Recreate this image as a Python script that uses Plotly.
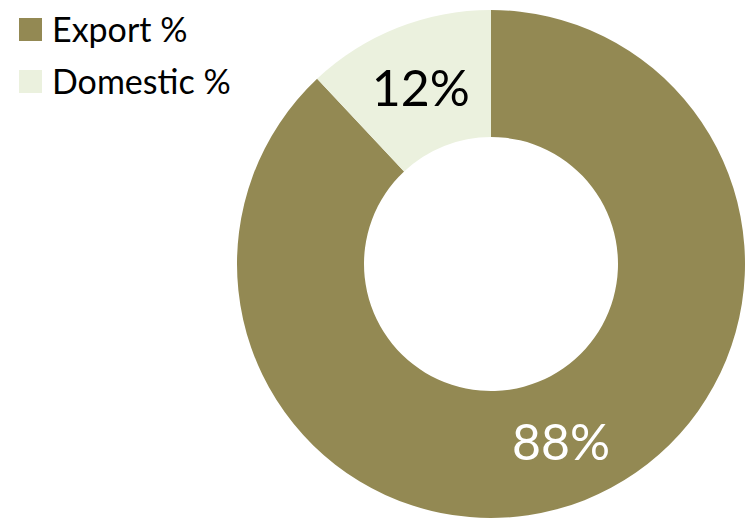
import plotly.graph_objects as go

# Share of sales by market
labels = ["Export %", "Domestic %"]
values = [88, 12]
colors = ["#938953", "#EBF1DE"]
text_colors = ["#FFFFFF", "#000000"]

W, H = 745, 519


def px_x(v):
    return v / W


def px_y(v):
    return 1 - v / H


fig = go.Figure(
    go.Pie(
        labels=labels,
        values=values,
        hole=0.5,
        sort=False,
        direction="clockwise",
        rotation=0,
        marker=dict(colors=colors, line=dict(width=0)),
        texttemplate="%{percent:.0%}",
        textposition="inside",
        insidetextorientation="horizontal",
        textfont=dict(family="Lato", size=50, color=text_colors),
        domain=dict(x=[px_x(237), 1], y=[px_y(518), px_y(10)]),
        showlegend=False,
        hoverinfo="label+percent",
    )
)

# Legend drawn as large swatches with labels at top-left
for i, (lab, col) in enumerate(zip(labels, colors)):
    top = 18 + 52 * i
    fig.add_shape(
        type="rect", xref="paper", yref="paper",
        x0=px_x(19), x1=px_x(42), y0=px_y(top + 23), y1=px_y(top),
        fillcolor=col, line=dict(width=0),
    )
    fig.add_annotation(
        xref="paper", yref="paper", x=px_x(50), y=px_y(top + 11),
        xanchor="left", yanchor="middle", text=lab, showarrow=False,
        font=dict(family="Lato", size=34, color="#000000"),
    )

fig.update_layout(
    width=W, height=H,
    margin=dict(l=0, r=0, t=0, b=0),
    paper_bgcolor="white", plot_bgcolor="white",
)

fig.write_html("out.html")
